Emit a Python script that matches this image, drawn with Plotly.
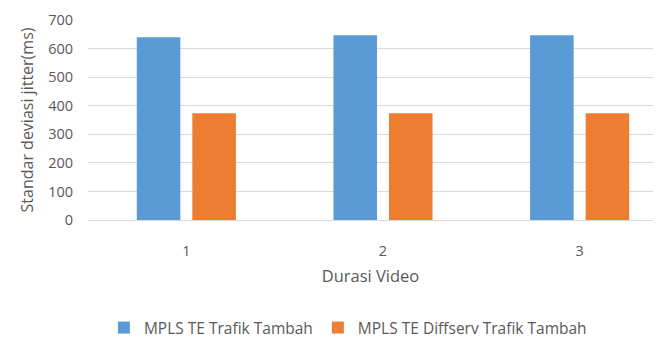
import plotly.graph_objects as go

# Video duration categories
durasi = ["1", "2", "3"]

# Jitter standard deviation (ms) per scenario
mpls_te = [640, 647, 647]
mpls_te_diffserv = [374, 374, 374]

y_ticks = [0, 100, 200, 300, 400, 500, 600, 700]

FONT = "'Open Sans', 'Noto Sans', sans-serif"
GREY = "#595959"

fig = go.Figure()
fig.add_trace(go.Bar(
    name="MPLS TE Trafik Tambah", x=durasi, y=mpls_te,
    marker=dict(color="#5B9BD5", line=dict(width=0)),
))
fig.add_trace(go.Bar(
    name="MPLS TE Diffserv Trafik Tambah", x=durasi, y=mpls_te_diffserv,
    marker=dict(color="#ED7D31", line=dict(width=0)),
))

fig.update_layout(
    width=658, height=340,
    margin=dict(l=88, r=5, t=20, b=120, autoexpand=False),
    paper_bgcolor="white", plot_bgcolor="white",
    font=dict(family=FONT, size=14, color=GREY),
    barmode="group", bargap=0.435, bargroupgap=0.216,
    showlegend=True,
    legend=dict(
        orientation="h", x=0.46, xanchor="center", y=-0.54, yanchor="middle",
        font=dict(size=15.5, color=GREY), itemwidth=30, traceorder="normal",
    ),
)

fig.update_xaxes(
    type="category", range=[-0.5, 2.373],
    showgrid=False, showline=False, zeroline=False,
    ticks="", ticklabelstandoff=20,
    title=dict(text="Durasi Video", font=dict(size=16.5, color=GREY), standoff=11),
    tickfont=dict(size=14.5, color=GREY),
)
fig.update_yaxes(
    range=[0, 700], tickvals=y_ticks,
    showgrid=True, gridcolor="#D9D9D9", gridwidth=1,
    zeroline=True, zerolinecolor="#D9D9D9", zerolinewidth=1,
    showline=False, ticks="", ticklabelstandoff=14,
    title=dict(text="Standar deviasi jitter(ms)", font=dict(size=16, color=GREY), standoff=10),
    tickfont=dict(size=14.5, color=GREY),
)

fig.write_html("out.html")
